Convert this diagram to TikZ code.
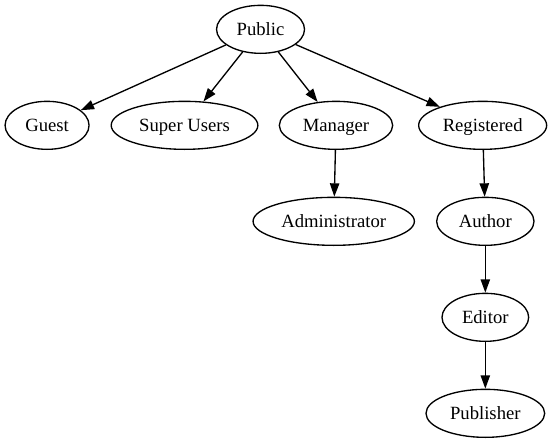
\documentclass[tikz,border=0pt]{standalone}
\usepackage{fontspec}
\setmainfont{Liberation Serif}
\usetikzlibrary{shapes.geometric,arrows.meta}

\begin{document}
\begin{tikzpicture}[x=1pt,y=-1pt,
  role/.style={ellipse,draw,line width=1pt,minimum height=36pt,inner sep=0pt,
    text height=11pt,text depth=2pt,font=\fontsize{14pt}{16pt}\selectfont},
  inherits/.style={line width=1pt,-{Triangle[length=10pt,width=7pt]}}]
  \useasboundingbox (0,0) rectangle (413.25,332.25);

  \node[role,minimum width=66pt] (public) at (195.4,22) {Public};

  \node[role,minimum width=63pt] (guest) at (35.3,94) {Guest};
  \node[role,minimum width=110pt] (superusers) at (138.4,94) {Super Users};
  \node[role,minimum width=85pt] (manager) at (252,94) {Manager};
  \node[role,minimum width=96pt] (registered) at (362,94) {Registered};

  \node[role,minimum width=121pt] (administrator) at (250.3,166) {Administrator};
  \node[role,minimum width=73pt] (author) at (364,166) {Author};
  \node[role,minimum width=65pt] (editor) at (364,238) {Editor};
  \node[role,minimum width=89pt] (publisher) at (364,310) {Publisher};

  \draw[inherits] (public) -- (guest);
  \draw[inherits] (public) -- (superusers);
  \draw[inherits] (public) -- (manager);
  \draw[inherits] (public) -- (registered);
  \draw[inherits] (manager) -- (administrator);
  \draw[inherits] (registered) -- (author);
  \draw[inherits] (author) -- (editor);
  \draw[inherits] (editor) -- (publisher);
\end{tikzpicture}
\end{document}
